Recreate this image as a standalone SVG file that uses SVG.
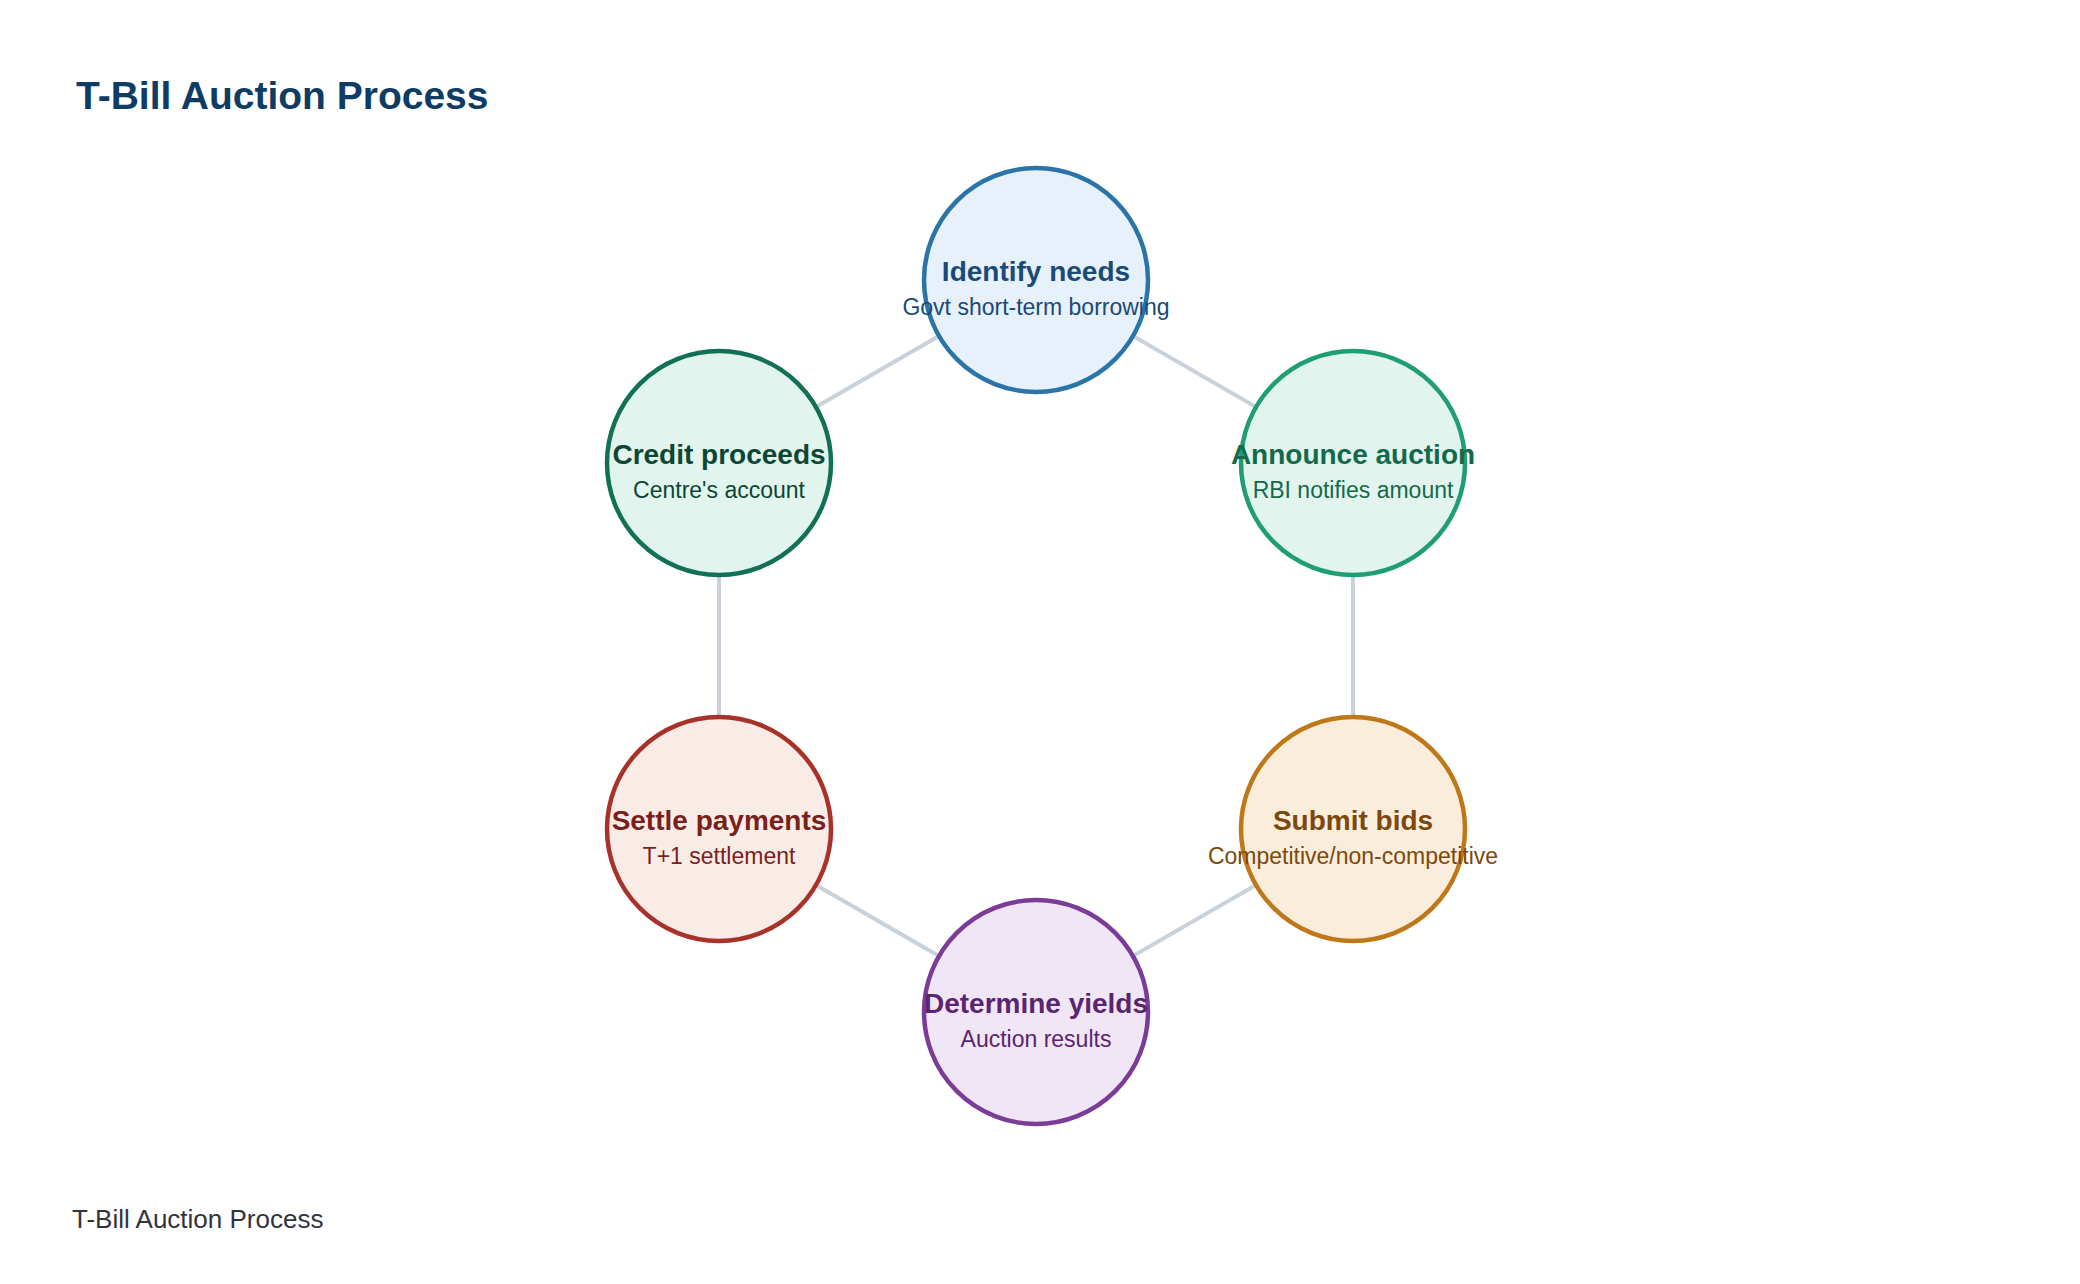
<svg xmlns="http://www.w3.org/2000/svg" width="2080" height="1284" viewBox="0 0 2080 1284">
<style>
.t{font-family:"Liberation Sans",Arial,sans-serif;text-anchor:middle}
.h{font-size:28px;font-weight:bold}
.s{font-size:23px}
.c{stroke-width:4.5}
.e{stroke:#c9d1db;stroke-width:4;fill:none}
</style>
<rect width="2080" height="1284" fill="#ffffff"/>
<text x="76" y="109" font-family="Liberation Sans, Arial, sans-serif" font-size="39" font-weight="bold" fill="#0f3c64">T-Bill Auction Process</text>
<g id="connectors">
<line class="e" x1="1036" y1="280" x2="1353" y2="463"/>
<line class="e" x1="1353" y1="463" x2="1353" y2="829"/>
<line class="e" x1="1353" y1="829" x2="1036" y2="1012"/>
<line class="e" x1="1036" y1="1012" x2="719" y2="829"/>
<line class="e" x1="719" y1="829" x2="719" y2="463"/>
<line class="e" x1="719" y1="463" x2="1036" y2="280"/>
</g>
<g id="identify">
<circle class="c" cx="1036" cy="280" r="112" fill="#e7f1fb" stroke="#2a74a7"/>
<text class="t h" x="1036" y="281" fill="#1a4a76">Identify needs</text>
<text class="t s" x="1036" y="315" fill="#1a4a76">Govt short-term borrowing</text>
</g>
<g id="announce">
<circle class="c" cx="1353" cy="463" r="112" fill="#e1f4ed" stroke="#1f9e72"/>
<text class="t h" x="1353" y="464" fill="#136a4a">Announce auction</text>
<text class="t s" x="1353" y="498" fill="#136a4a">RBI notifies amount</text>
</g>
<g id="submit">
<circle class="c" cx="1353" cy="829" r="112" fill="#faeddb" stroke="#bf7818"/>
<text class="t h" x="1353" y="830" fill="#7c480c">Submit bids</text>
<text class="t s" x="1353" y="864" fill="#7c480c">Competitive/non-competitive</text>
</g>
<g id="determine">
<circle class="c" cx="1036" cy="1012" r="112" fill="#f0e6f5" stroke="#7b3c98"/>
<text class="t h" x="1036" y="1013" fill="#5a2470">Determine yields</text>
<text class="t s" x="1036" y="1047" fill="#5a2470">Auction results</text>
</g>
<g id="settle">
<circle class="c" cx="719" cy="829" r="112" fill="#f9ece7" stroke="#a8322a"/>
<text class="t h" x="719" y="830" fill="#7a1f19">Settle payments</text>
<text class="t s" x="719" y="864" fill="#7a1f19">T+1 settlement</text>
</g>
<g id="credit">
<circle class="c" cx="719" cy="463" r="112" fill="#e1f4ed" stroke="#117056"/>
<text class="t h" x="719" y="464" fill="#0b4734">Credit proceeds</text>
<text class="t s" x="719" y="498" fill="#0b4734">Centre's account</text>
</g>
<text x="72" y="1228" font-family="Liberation Sans, Arial, sans-serif" font-size="26" fill="#33333f">T-Bill Auction Process</text>
</svg>
